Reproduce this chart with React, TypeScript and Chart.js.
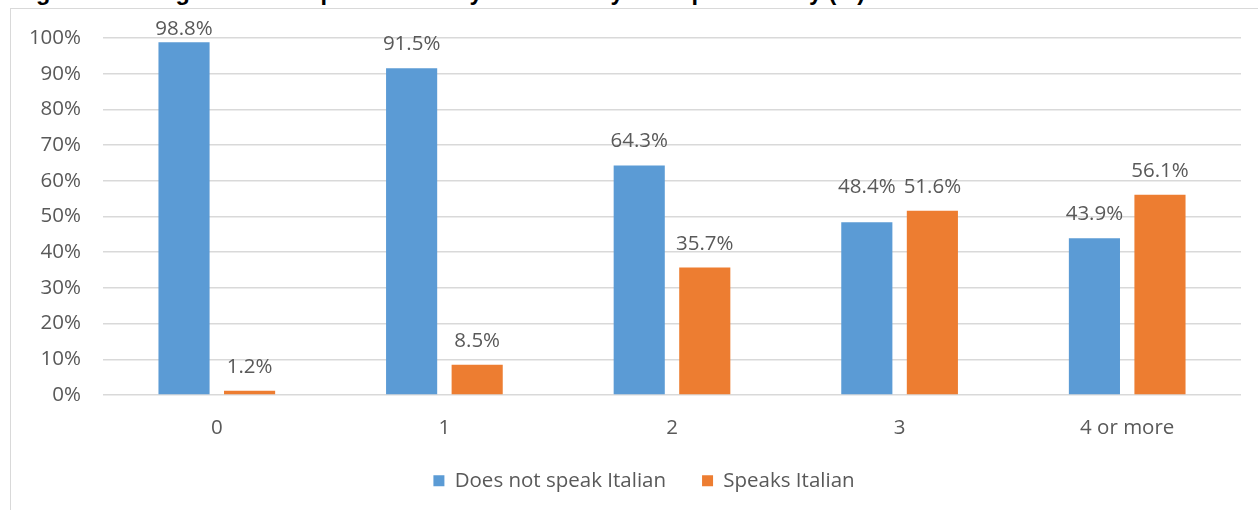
import React, { useEffect, useRef } from "react";
import { Chart, registerables } from "chart.js";

Chart.register(...registerables);

const titleText =
  "Figure 6: Immigrants who speak Italian by number of years spent in Italy (%)";
const categories = ["0", "1", "2", "3", "4 or more"];
const seriesNames = ["Does not speak Italian", "Speaks Italian"];
const doesNotSpeak = [98.8, 91.5, 64.3, 48.4, 43.9];
const speaksItalian = [1.2, 8.5, 35.7, 51.6, 56.1];
const yMin = 0;
const yMax = 100;
const yStep = 10;

const FONT = "'Open Sans'";
const FONT_SIZE = 20.5;
const TEXT = "#595959";
const BLUE = "#5B9BD5";
const ORANGE = "#ED7D31";
const GRID = "#D9D9D9";

const valueLabels = {
  id: "valueLabels",
  afterDatasetsDraw(chart: any) {
    const ctx = chart.ctx;
    const area = chart.chartArea;
    const metas = chart.data.datasets.map((_: any, i: number) => chart.getDatasetMeta(i));
    const n = chart.data.labels.length;
    ctx.save();
    ctx.font = `${FONT_SIZE}px ${FONT}`;
    ctx.fillStyle = TEXT;
    ctx.textAlign = "center";
    ctx.textBaseline = "alphabetic";
    for (let j = 0; j < n; j++) {
      const ys = metas.map((m: any) => Math.max(m.data[j].y - 18, area.top - 3));
      const minY = Math.min(...ys);
      const maxY = Math.max(...ys);
      const aligned = maxY - minY < 20;
      metas.forEach((m: any, i: number) => {
        const el = m.data[j];
        const v = chart.data.datasets[i].data[j];
        ctx.fillText(v.toFixed(1) + "%", el.x, aligned ? minY : ys[i]);
      });
    }
    ctx.restore();
  },
};

export default function App() {
  const ref = useRef<HTMLCanvasElement | null>(null);

  useEffect(() => {
    if (!ref.current) return;
    const font = { family: FONT, size: FONT_SIZE };
    const chart = new Chart(ref.current, {
      type: "bar",
      data: {
        labels: categories,
        datasets: [
          {
            label: seriesNames[0],
            data: doesNotSpeak,
            backgroundColor: BLUE,
            borderWidth: 0,
            categoryPercentage: 0.576,
            barPercentage: 0.78,
          },
          {
            label: seriesNames[1],
            data: speaksItalian,
            backgroundColor: ORANGE,
            borderWidth: 0,
            categoryPercentage: 0.576,
            barPercentage: 0.78,
          },
        ],
      },
      options: {
        animation: false,
        responsive: false,
        devicePixelRatio: 1,
        layout: { padding: { top: 29, left: 0, right: 0, bottom: 9 } },
        plugins: {
          title: { display: false },
          tooltip: { enabled: false },
          legend: {
            position: "bottom",
            labels: {
              boxWidth: 11,
              boxHeight: 11,
              padding: 36,
              color: TEXT,
              font,
            },
          },
        },
        scales: {
          y: {
            min: yMin,
            max: yMax,
            ticks: {
              stepSize: yStep,
              callback: (v: any) => v + "%",
              color: TEXT,
              font,
              padding: 0,
            },
            grid: {
              color: GRID,
              lineWidth: 1.5,
              drawTicks: true,
              tickLength: 22,
              tickColor: "rgba(0,0,0,0)",
            },
            border: { display: false },
            afterFit: (s: any) => {
              s.width = 92;
            },
          },
          rightSpace: {
            type: "linear",
            position: "right",
            display: true,
            grid: { display: false, drawTicks: false },
            ticks: { display: false },
            border: { display: false },
            afterFit: (s: any) => {
              s.width = 36;
            },
          },
          x: {
            ticks: { color: TEXT, font, padding: 21 },
            grid: { display: false, drawTicks: false },
            border: { display: false },
            afterFit: (s: any) => {
              s.height = 39.5;
            },
          },
        },
      },
      plugins: [valueLabels],
    } as any);
    return () => chart.destroy();
  }, []);

  return (
    <div
      style={{
        position: "fixed",
        left: 0,
        top: 0,
        width: "100vw",
        height: "100vh",
        overflow: "hidden",
        background: "#fff",
      }}
    >
      <div
        style={{
          position: "absolute",
          left: 15,
          top: -19,
          fontFamily: "'Liberation Sans', Arial, sans-serif",
          fontWeight: "bold",
          fontSize: "23.5px",
          lineHeight: "23.5px",
          whiteSpace: "nowrap",
          color: "#000",
        }}
      >
        {titleText}
      </div>
      <div
        style={{
          position: "absolute",
          left: 10,
          top: 8,
          width: 1268,
          height: 540,
          border: "1px solid #D9D9D9",
          boxSizing: "border-box",
        }}
      >
        <canvas
          ref={ref}
          width={1266}
          height={501}
          style={{ position: "absolute", left: 0, top: 0, width: 1266, height: 501 }}
        />
      </div>
    </div>
  );
}
